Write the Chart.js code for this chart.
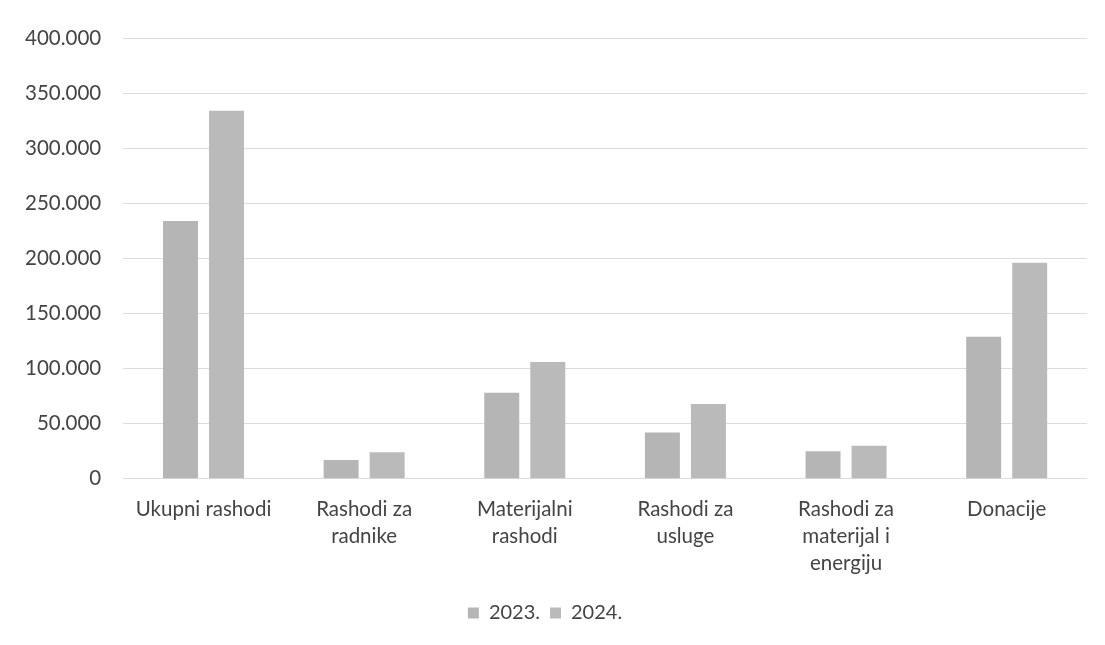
<!DOCTYPE html>
<html>
<head>
<meta charset="utf-8">
<script src="https://cdn.jsdelivr.net/npm/chart.js@4/dist/chart.umd.min.js"></script>
<style>
  html, body { margin: 0; padding: 0; background: #fff; }
  #wrap { width: 1105px; height: 645px; }
</style>
</head>
<body>
<div id="wrap"><canvas id="chart"></canvas></div>
<script>
const categories = [
    'Ukupni rashodi',
    ['Rashodi za', 'radnike'],
    ['Materijalni', 'rashodi'],
    ['Rashodi za', 'usluge'],
    ['Rashodi za', 'materijal i', 'energiju'],
    'Donacije'
];
const seriesNames = ['2023.', '2024.'];
const values2023 = [234000, 17000, 78000, 42000, 25000, 129000];
const values2024 = [334000, 24000, 106000, 68000, 30000, 196000];
const yTicks = [0, 50000, 100000, 150000, 200000, 250000, 300000, 350000, 400000];

// 400000 -> "400.000"
function fmt(v) {
    return String(v).replace(/\B(?=(\d{3})+(?!\d))/g, '.');
}

const font = "Lato, 'Open Sans', sans-serif";

new Chart(document.getElementById('chart'), {
    type: 'bar',
    data: {
        labels: categories,
        datasets: [
            {
                label: seriesNames[0],
                data: values2023,
                backgroundColor: '#b5b5b5',
                categoryPercentage: 0.573,
                barPercentage: 0.76
            },
            {
                label: seriesNames[1],
                data: values2024,
                backgroundColor: '#bababa',
                categoryPercentage: 0.573,
                barPercentage: 0.76
            }
        ]
    },
    options: {
        responsive: true,
        maintainAspectRatio: false,
        animation: false,
        layout: { padding: { top: 38, left: 3, right: 18, bottom: 12 } },
        scales: {
            x: {
                grid: { display: false },
                border: { display: false },
                ticks: {
                    color: '#444',
                    font: { family: font, size: 20.5, lineHeight: 1.32 },
                    maxRotation: 0,
                    autoSkip: false,
                    padding: 9
                },
                afterFit: s => { s.height += 7; }
            },
            y: {
                min: 0,
                max: 400000,
                afterBuildTicks: axis => { axis.ticks = yTicks.map(v => ({ value: v })); },
                grid: { color: '#dcdcdc', drawTicks: false },
                border: { display: false },
                ticks: {
                    color: '#444',
                    font: { family: font, size: 20.5 },
                    padding: 22,
                    callback: v => fmt(v)
                }
            }
        },
        plugins: {
            legend: {
                position: 'bottom',
                labels: {
                    color: '#444',
                    font: { family: font, size: 20 },
                    boxWidth: 11,
                    boxHeight: 11,
                    padding: 10
                }
            },
            tooltip: { enabled: false }
        }
    }
});
</script>
</body>
</html>
